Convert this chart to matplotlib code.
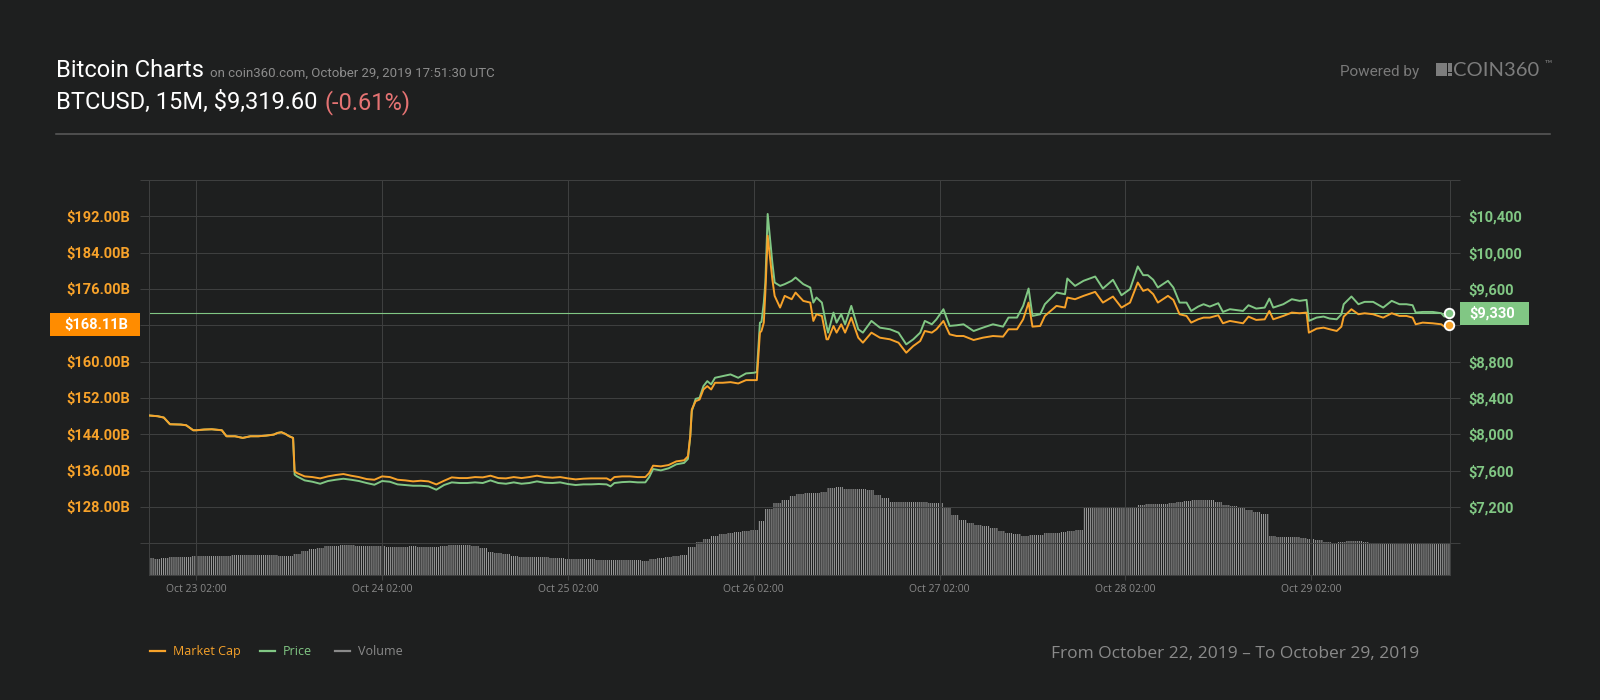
import numpy as np
import pandas as pd
import matplotlib
matplotlib.use("Agg")
import matplotlib.pyplot as plt
import matplotlib.dates as mdates
from matplotlib.patches import Rectangle
from matplotlib.lines import Line2D

# ---------------- data ----------------
base_time = pd.Timestamp("2019-10-23 02:00")
# hours relative to Oct 23 02:00
hours = [-6.0, -5.0, -4.2, -3.4, -2.0, -1.3, -0.4, 0.0, 1.0, 2.0, 3.3, 3.9, 5.0, 6.0, 7.0, 8.0,
         9.0, 10.0, 10.5, 11.0, 11.5, 12.0, 12.5, 12.7, 13.0,
         14, 15, 16, 17, 18, 19, 20, 21, 22, 23, 24, 25, 26, 27, 28, 29, 30, 31, 32, 33, 34, 35, 36, 37,
         38, 39, 40, 41, 42, 43, 44, 45, 46, 47, 48, 49, 50, 51, 52, 53, 53.5, 54, 55, 56, 57, 58, 58.5,
         59, 60, 61, 62, 63, 63.5, 63.8, 64.0, 64.5, 65.0, 65.5, 66.0, 66.5, 67, 68, 69, 70, 71, 72,
         72.4, 72.8, 73.0, 73.3, 73.5, 73.8, 74.4, 74.7, 75.4, 76.0, 76.9, 77.4, 78.4, 79.3, 79.7, 80.1,
         80.8, 81.4, 81.6, 82.3, 82.7, 83.3, 83.8, 84.6, 85.5, 86.1, 87.2, 88.3, 89.6, 90.7, 91.7, 92.6,
         93.5, 94.1, 95.0, 95.6, 96.5, 97.3, 98.2, 99.1, 100.4, 101.6, 102.9, 104.2, 104.9, 106.0, 106.8,
         107.5, 108.0, 109.0, 109.6, 111.1, 112.2, 112.5, 113.5, 114.6, 116.1, 117.1, 118.4, 119.5, 120.6,
         121.6, 122.3, 122.9, 123.6, 124.2, 125.5, 126.2, 127.0, 127.9, 128.5, 129.4, 130.1, 130.9, 132.0,
         132.6, 133.5, 135.2, 135.9, 136.9, 138.0, 138.6, 139.1, 140.4, 141.5, 142.5, 143.4, 143.7, 144.7,
         145.6, 146.4, 147.3, 147.9, 148.2, 149.2, 150.1, 150.9, 152.0, 153.3, 154.4, 155.4, 156.3, 157.1,
         157.5, 158.4, 159.7, 160.8, 161.2, 161.8]

price = [8206, 8199, 8184, 8110, 8107, 8099, 8044, 8044, 8052, 8055, 8044, 7978, 7978, 7960, 7978, 7978,
         7985, 7996, 8015, 8022, 8004, 7978, 7960, 7555, 7536,
         7492, 7477, 7455, 7485, 7499, 7510, 7499, 7485, 7463, 7444, 7485, 7477, 7448, 7441, 7433, 7433,
         7426, 7389, 7441, 7470, 7463, 7463, 7470, 7463,
         7492, 7463, 7455, 7470, 7455, 7463, 7481, 7466, 7463, 7470, 7452, 7441, 7448, 7448, 7452, 7448,
         7426, 7463, 7473, 7477, 7470, 7470, 7529,
         7617, 7602, 7625, 7669, 7684, 7728, 7978, 8254, 8390, 8401, 8530, 8585, 8549, 8622, 8641, 8659,
         8622, 8670, 8677,
         8685, 9229, 9237, 9450, 9671, 10426, 9892, 9671, 9634, 9653, 9690, 9726, 9653, 9616, 9450, 9506,
         9450, 9193, 9119, 9340, 9229, 9321, 9211, 9414, 9156, 9119, 9248, 9174, 9156, 9119, 8990, 9045,
         9119, 9248, 9211, 9266, 9377, 9193, 9200, 9211, 9137, 9174, 9211, 9185, 9285, 9285, 9414,
         9605, 9303, 9321, 9432, 9561, 9542, 9715, 9634, 9690, 9737, 9605, 9701, 9531, 9598,
         9848, 9752, 9752, 9701, 9616, 9690, 9616, 9450, 9450, 9358, 9406, 9432, 9406, 9443,
         9347, 9377, 9358, 9421, 9384, 9395, 9494, 9395, 9432, 9487, 9469, 9480, 9248, 9285,
         9296, 9274, 9266, 9321, 9432, 9517, 9432, 9458, 9458, 9395, 9469, 9432, 9432, 9421,
         9340, 9347, 9347, 9333, 9296, 9330]

market_cap_b = [148.12, 147.97, 147.68, 146.21, 146.13, 145.98, 144.88, 144.88, 145.03, 145.10, 144.88,
                143.56, 143.56, 143.19, 143.56, 143.56, 143.70, 143.92, 144.29, 144.44, 144.07, 143.56,
                143.19, 135.82, 135.46,
                134.72, 134.57, 134.28, 134.72, 135.02, 135.24, 134.87, 134.57, 134.13, 133.98, 134.72,
                134.57, 133.98, 133.84, 133.62, 133.76, 133.62, 132.95, 133.76, 134.50, 134.35, 134.35,
                134.57, 134.50,
                134.87, 134.35, 134.28, 134.57, 134.35, 134.57, 134.87, 134.57, 134.43, 134.57, 134.28,
                134.06, 134.21, 134.28, 134.28, 134.28, 133.84, 134.57, 134.72, 134.72, 134.57, 134.57,
                135.46,
                137.08, 136.93, 137.22, 138.03, 138.26, 139.14, 143.56, 149.45, 151.29, 151.65, 153.86,
                154.60, 153.86, 155.34, 155.34, 155.48, 155.19, 155.92, 155.92,
                155.92, 166.38, 166.75, 168.59, 175.21, 187.73, 178.16, 174.48, 171.90, 174.48, 173.74,
                175.21, 173.37, 173.00, 168.96, 170.43,
                170.06, 164.91, 164.91, 167.85, 166.38, 168.22, 166.38, 169.69, 165.27, 164.17, 166.38,
                165.27, 164.91, 164.17, 161.96, 163.43,
                164.54, 166.75, 166.38, 167.12, 168.96, 166.01, 165.64, 165.64, 164.76, 165.27, 165.64,
                165.50, 167.12, 167.12, 169.32,
                173.00, 167.70, 167.85, 170.06, 172.27, 171.90, 174.11, 173.74, 174.48, 175.36, 173.00,
                174.33, 171.90, 173.00,
                177.42, 175.58, 175.95, 174.85, 173.00, 174.48, 173.59, 170.43, 170.06, 168.59, 169.32,
                169.69, 169.69, 170.21,
                168.44, 168.96, 168.44, 169.91, 169.18, 169.32, 171.16, 169.32, 170.06, 170.80, 170.65,
                170.80, 166.38, 167.26,
                167.48, 167.12, 166.75, 167.70, 169.91, 171.53, 170.43, 170.65, 170.43, 169.69, 170.65,
                170.06, 170.06, 169.69,
                168.22, 168.59, 168.44, 168.22, 167.70, 168.11]

# hourly volume (arbitrary B units), starting Oct 22 20:00
volume_start = pd.Timestamp("2019-10-22 20:00")
volume_hourly = [
    8.5, 8.2, 8.5, 9.0, 9.0, 9.0, 9.5, 9.5, 9.5, 9.5, 9.5, 10.0,
    10.0, 10.0, 10.0, 10.0, 10.0, 9.5, 9.5, 10.3, 12.0, 13.0, 13.5, 14.3,
    14.5, 14.8, 14.8, 14.6, 14.5, 14.3, 14.3, 14.2, 14.2, 14.0, 14.3, 14.0,
    14.2, 14.2, 14.5, 14.8, 14.8, 14.8, 14.5, 13.5, 11.5, 10.8, 10.5, 9.5,
    9.0, 9.0, 9.0, 9.0, 8.7, 8.5, 8.0, 8.0, 8.0, 8.0, 7.7, 7.7,
    7.7, 7.7, 7.7, 7.5, 7.2, 8.0, 8.7, 9.2, 9.5, 10.0, 14.0, 16.5,
    18.0, 19.5, 20.5, 21.0, 21.5, 22.2, 22.5, 27.0, 33.0, 36.0, 37.5, 39.5,
    40.5, 40.8, 40.8, 41.5, 43.5, 44.0, 43.0, 43.0, 42.8, 42.5, 40.0, 38.5,
    36.5, 36.3, 36.3, 36.3, 36.3, 36.2, 36.0, 34.0, 30.0, 27.5, 25.8, 25.0,
    24.5, 23.5, 22.0, 21.2, 20.5, 19.5, 20.0, 20.2, 20.8, 21.0, 21.5, 22.0,
    22.5, 34.2, 34.2, 34.2, 34.2, 34.2, 34.0, 34.0, 35.0, 35.5, 35.5, 35.5,
    36.0, 36.5, 37.0, 37.5, 37.5, 37.5, 36.5, 35.0, 34.5, 34.0, 32.5, 31.5,
    30.5, 19.5, 19.2, 19.0, 18.8, 18.5, 18.0, 17.5, 16.5, 16.2, 16.5, 16.8,
    17.0, 16.5, 15.5, 15.5, 15.5, 15.5, 15.5, 15.5, 15.5, 15.5, 15.5, 15.5,
    15.5]

x_tick_days = pd.date_range("2019-10-23 02:00", periods=7, freq="D")
mc_ticks = list(range(120, 201, 8))
mc_hidden = [120, 168, 200]
price_ticks = list(range(6800, 10801, 400))
price_hidden = [6800, 9200, 10800]

# ---------------- style ----------------
BG = "#1e1f1f"
GRID = "#3e3f3f"
ORANGE = "#f7a22a"
ORANGE_TAG = "#ff8c00"
GREEN = "#81c784"
GREY = "#8a8a8a"
VOLC = "#9a9a9a"

plt.rcParams["hatch.linewidth"] = 0.75
plt.rcParams["hatch.color"] = VOLC

W, H = 1600, 700
fig = plt.figure(figsize=(16, 7), dpi=100, facecolor=BG)
renderer = fig.canvas.get_renderer()


def fx(x):
    return x / W


def fy(y):
    return 1 - y / H


def right_edge_px(txt):
    return txt.get_window_extent(renderer=renderer).x1


left_px, right_px, top_px, bot_px = 149.3, 1450.0, 180.0, 575.0
rect = [fx(left_px), fy(bot_px), fx(right_px) - fx(left_px), fy(top_px) - fy(bot_px)]
axv = fig.add_axes(rect, zorder=1)
axp = fig.add_axes(rect, zorder=2, sharex=axv)
axm = fig.add_axes(rect, zorder=3, sharex=axv)
for a in (axv, axp, axm):
    a.patch.set_visible(False)

t_line = mdates.date2num((base_time + pd.to_timedelta(hours, unit="h")).values)
t_vol = mdates.date2num((volume_start + pd.to_timedelta(np.arange(len(volume_hourly)), unit="h")).values)
x0 = mdates.date2num((base_time - pd.Timedelta(hours=6.07)).to_datetime64())
x1 = mdates.date2num((base_time + pd.Timedelta(hours=161.93)).to_datetime64())

# volume
axv.fill_between(t_vol, 0, volume_hourly, step="mid", facecolor="none",
                 edgecolor=VOLC, hatch="|" * 8, linewidth=0)
axv.set_ylim(0, 197.5)
axv.axis("off")
axv.set_xlim(x0, x1)

# price axis (right)
axp.set_ylim(6450, 10800)
axp.set_axisbelow(True)
axp.grid(True, color=GRID, linewidth=0.75)
axp.plot(t_line, price, color=GREEN, lw=1.4, zorder=3, solid_joinstyle="round")
axp.axhline(price[-1], color=GREEN, lw=0.8, zorder=2)
axp.yaxis.tick_right()
axp.set_yticks(price_ticks,
               labels=["" if v in price_hidden else f"${v:,}" for v in price_ticks],
               fontfamily="Roboto", fontweight="bold", fontsize=10.5)
axp.tick_params(axis="y", which="both", left=False, right=True, length=7.2, width=0.75,
                color=GRID, labelcolor=GREEN, pad=5.8)
axp.set_xticks(mdates.date2num(x_tick_days.values),
               labels=[d.strftime("%b %d %H:%M") for d in x_tick_days],
               fontfamily="Open Sans", fontsize=7.5)
axp.tick_params(axis="x", length=3.5, width=0.75, color=GRID, labelcolor=GREY, pad=3)
for s in axp.spines.values():
    s.set_color(GRID)
    s.set_linewidth(0.75)
axp.set_xlim(x0, x1)

# market cap axis (left)
axm.set_ylim(113.0, 200.0)
axm.plot(t_line, market_cap_b, color=ORANGE, lw=1.4, zorder=3, solid_joinstyle="round")
axm.set_yticks(mc_ticks,
               labels=["" if v in mc_hidden else f"${v:.2f}B" for v in mc_ticks],
               fontfamily="Roboto", fontweight="bold", fontsize=10.5)
axm.tick_params(axis="y", which="both", left=True, right=False, length=6.5, width=0.75,
                color=GRID, labelcolor=ORANGE, pad=7.2)
axm.tick_params(axis="x", bottom=False, labelbottom=False)
for s in axm.spines.values():
    s.set_visible(False)

# end markers
axp.plot([t_line[-1]], [price[-1]], "o", ms=6.8, mfc=GREEN, mec="white", mew=1.4, zorder=5,
         clip_on=False)
axm.plot([t_line[-1]], [market_cap_b[-1]], "o", ms=6.8, mfc=ORANGE, mec="white", mew=1.4,
         zorder=5, clip_on=False)

# value tags
y_mc = axm.transData.transform((t_line[-1], market_cap_b[-1]))[1]
fig.add_artist(Rectangle((fx(50), (y_mc - 11.65) / H), 90 / W, 23.3 / H,
                         transform=fig.transFigure, facecolor=ORANGE_TAG, edgecolor="none"))
fig.text(fx(96.5), y_mc / H, f"${market_cap_b[-1]:.2f}B", color="white", fontfamily="Roboto",
         fontweight="bold", fontsize=10.5, ha="center", va="center")

y_p = axp.transData.transform((t_line[-1], price[-1]))[1]
fig.add_artist(Rectangle((fx(1460), (y_p - 11.5) / H), 69 / W, 23 / H,
                         transform=fig.transFigure, facecolor=GREEN, edgecolor="none"))
fig.text(fx(1492), y_p / H, f"${price[-1]:,.0f}", color="white", fontfamily="Roboto",
         fontweight="bold", fontsize=10.5, ha="center", va="center")

# ---------------- header ----------------
t1 = fig.text(fx(56), fy(76.7), "Bitcoin Charts", color="white", fontfamily="Roboto",
              fontsize=17, va="baseline")
fig.text((right_edge_px(t1) + 6.5) / W, fy(76.7), "on coin360.com, October 29, 2019 17:51:30 UTC",
         color="#8c8c8c", fontfamily="Roboto", fontsize=9.5, va="baseline")
t2 = fig.text(fx(56), fy(109.3), "BTCUSD, 15M, $9,319.60", color="white", fontfamily="Roboto",
              fontsize=17, va="baseline")
fig.text((right_edge_px(t2) + 7) / W, fy(109.3), "(-0.61%)", color="#e57373", fontfamily="Roboto",
         fontsize=17, va="baseline")
fig.add_artist(Line2D([fx(56), fx(1550)], [fy(134), fy(134)], transform=fig.transFigure,
                      color="#5c5c5c", lw=1.1))

LOGO = "#7d7d7d"
fig.text(fx(1340), fy(76), "Powered by", color="#7a7a7a", fontfamily="Roboto", fontsize=11,
         va="baseline")
fig.add_artist(Rectangle((fx(1436), fy(75.7)), 10.7 / W, 12.4 / H, transform=fig.transFigure,
                         facecolor=LOGO, edgecolor="none"))
fig.add_artist(Rectangle((fx(1448.3), fy(71.8)), 3.2 / W, 8.5 / H, transform=fig.transFigure,
                         facecolor=LOGO, edgecolor="none"))
fig.add_artist(Rectangle((fx(1448.3), fy(75.7)), 3.2 / W, 2.8 / H, transform=fig.transFigure,
                         facecolor=LOGO, edgecolor="none"))
fig.text(fx(1453), fy(75.7), "COIN360", color=LOGO, fontfamily="Lato", fontweight="normal",
         fontsize=14.5, va="baseline")
fig.text(fx(1545), fy(66), "™", color=LOGO, fontfamily=["Lato", "DejaVu Sans"], fontsize=7,
         va="baseline")

# ---------------- legend ----------------
legend_items = [("Market Cap", ORANGE, 150, 173.3), ("Price", GREEN, 260, 282.7),
                ("Volume", GREY, 335, 358.3)]
for name, col, lx, tx in legend_items:
    fig.add_artist(Line2D([fx(lx), fx(lx + 15)], [fy(650.7), fy(650.7)],
                          transform=fig.transFigure, color=col, lw=1.6))
    fig.text(fx(tx), fy(654.8), name, color=col, fontfamily="Open Sans", fontsize=9,
             va="baseline")

fig.text(fx(1419), fy(658), "From October 22, 2019 \u2013 To October 29, 2019", color=GREY,
         fontfamily="Open Sans", fontsize=12.5, ha="right", va="baseline")

fig.savefig("out.png", dpi=100, facecolor=BG)
